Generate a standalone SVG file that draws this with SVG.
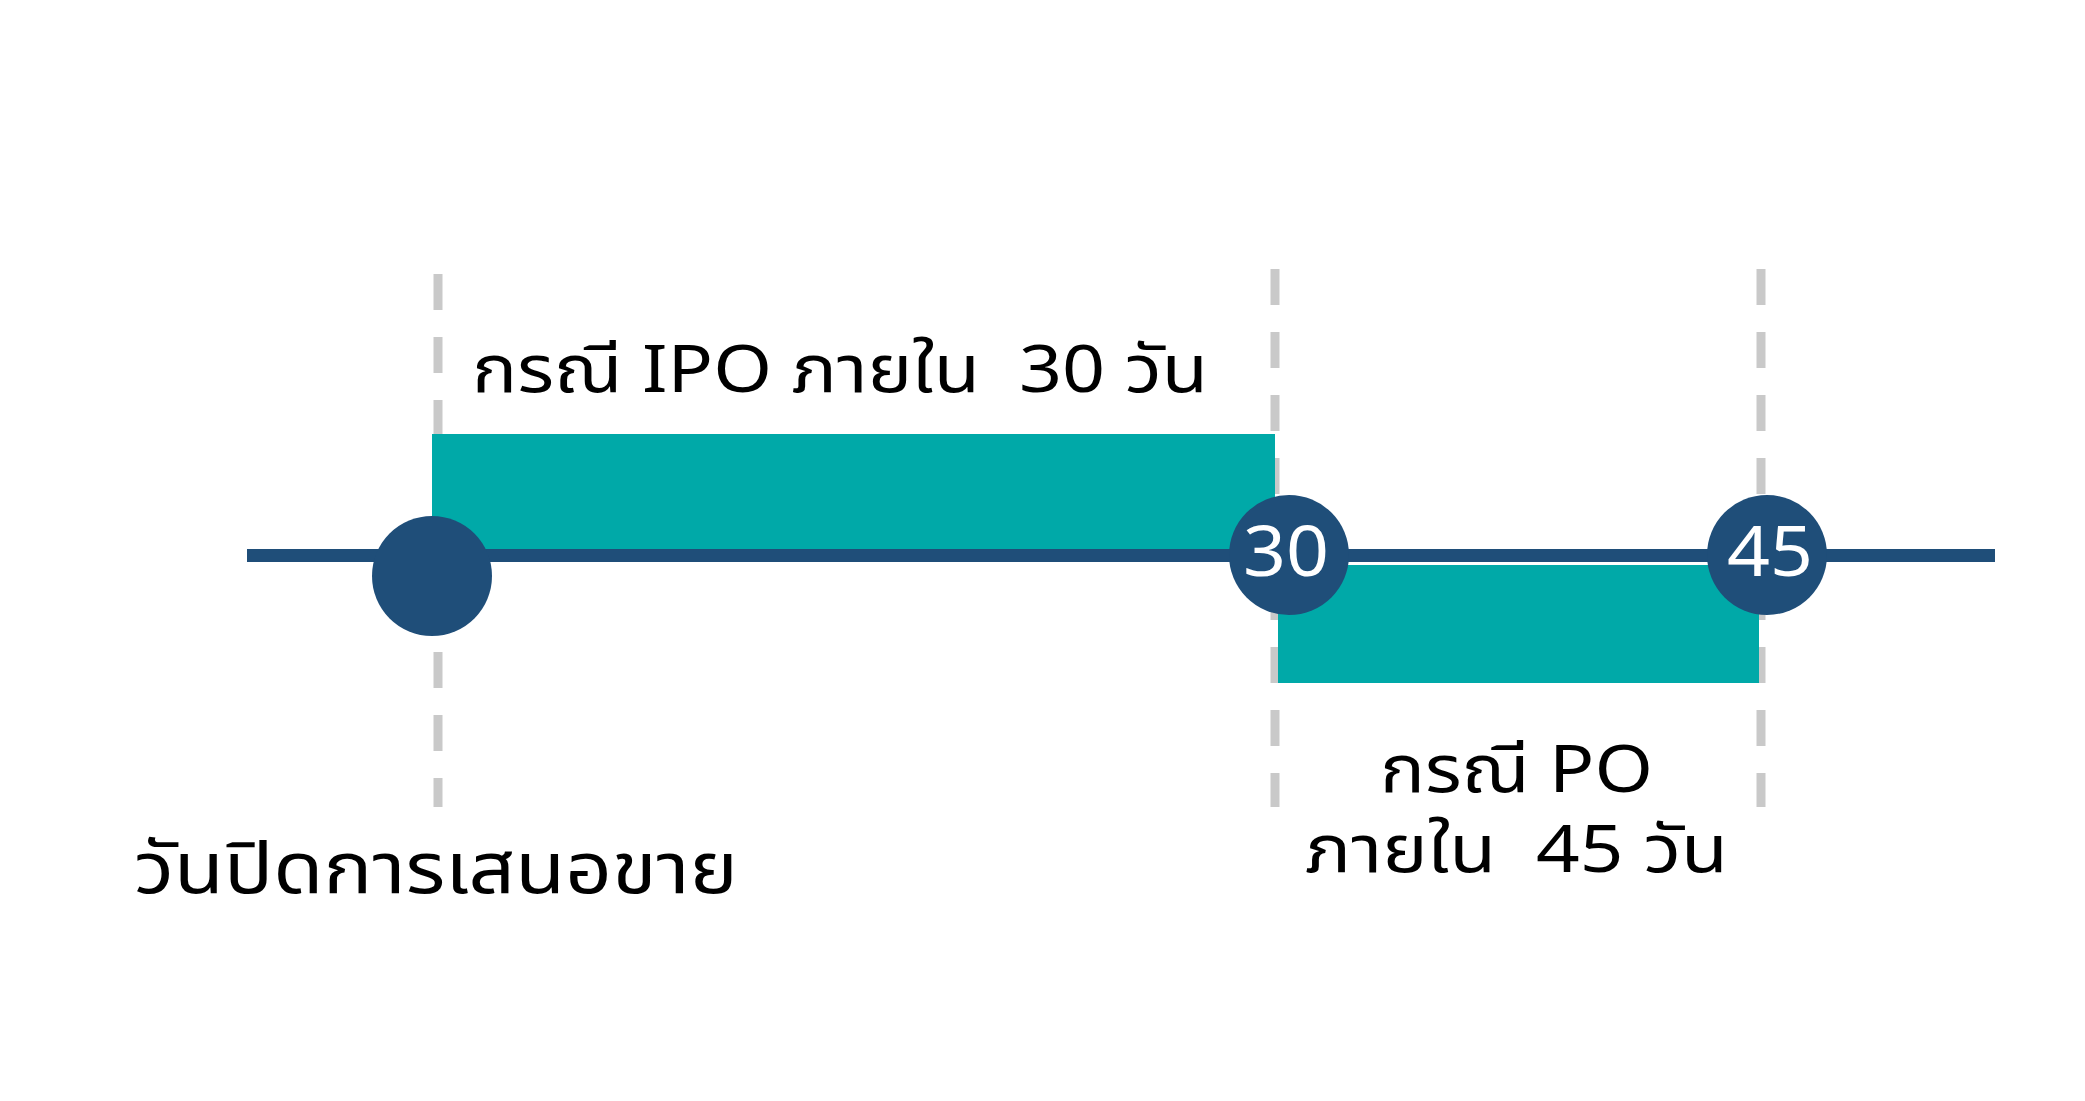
<svg xmlns="http://www.w3.org/2000/svg" width="2085" height="1101" viewBox="0 0 2085 1101">
<style>
.dash{stroke:#c9c9c9;stroke-width:9;stroke-dasharray:36 27;fill:none}
.bar{fill:#00a9a8}
.axis{stroke:#1f4e79;stroke-width:13}
.dot{fill:#1f4e79}
.lbl{font-family:"Noto Sans Thai","Noto Sans","DejaVu Sans",sans-serif;fill:#000;white-space:pre}
.num{font-family:"Noto Sans","Open Sans",sans-serif;fill:#fff;font-size:70px;text-anchor:middle}
</style>
<rect width="2085" height="1101" fill="#fff"/>
<g id="guides">
<line class="dash" x1="438" y1="274" x2="438" y2="807"/>
<line class="dash" x1="1275" y1="269" x2="1275" y2="807"/>
<line class="dash" x1="1761" y1="269" x2="1761" y2="807"/>
</g>
<g id="bar-ipo"><rect class="bar" x="432" y="434" width="843" height="116"/></g>
<g id="bar-po"><rect class="bar" x="1278" y="565" width="481" height="118"/></g>
<g id="connectors"><line class="axis" x1="247" y1="555.5" x2="1995" y2="555.5"/></g>
<g id="node-start"><circle class="dot" cx="432" cy="576" r="60"/></g>
<g id="node-30"><circle class="dot" cx="1289" cy="555" r="60"/><text class="num" x="1286" y="576" textLength="86" lengthAdjust="spacingAndGlyphs">30</text></g>
<g id="node-45"><circle class="dot" cx="1767" cy="555" r="60"/><text class="num" x="1770" y="576" textLength="86" lengthAdjust="spacingAndGlyphs">45</text></g>
<g id="label-ipo"><text class="lbl" x="472" y="392" font-size="66" textLength="736" lengthAdjust="spacingAndGlyphs">กรณี IPO ภายใน  30 วัน</text></g>
<g id="label-po"><text class="lbl" x="1380" y="792" font-size="66" textLength="273" lengthAdjust="spacingAndGlyphs">กรณี PO</text><text class="lbl" x="1305" y="872" font-size="66" textLength="423" lengthAdjust="spacingAndGlyphs">ภายใน  45 วัน</text></g>
<g id="label-close"><text class="lbl" x="134" y="893" font-size="72" textLength="604" lengthAdjust="spacingAndGlyphs">วันปิดการเสนอขาย</text></g>
</svg>
